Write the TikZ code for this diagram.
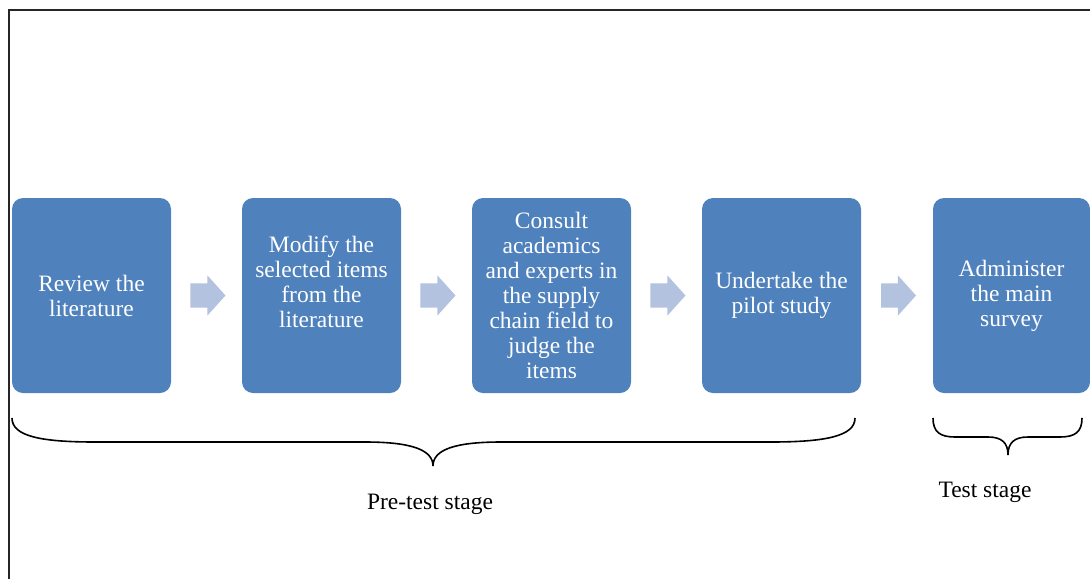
\documentclass[tikz,border=0pt]{standalone}
\usepackage{fontspec}
\setmainfont{Liberation Serif}
\usetikzlibrary{shapes.arrows,calc}
\definecolor{boxblue}{HTML}{4F81BD}
\definecolor{arrowblue}{HTML}{B2C2DF}
\begin{document}
\begin{tikzpicture}[x=1pt,y=-1pt,
  stepbox/.style={fill=boxblue, draw=none, rounded corners=11pt,
    minimum width=159pt, minimum height=195pt, inner sep=0pt,
    text=white, align=center, font=\fontsize{23.5}{25}\selectfont},
  flowarrow/.style={single arrow, fill=arrowblue, draw=none,
    inner xsep=0pt, inner ysep=12pt,
    minimum width=40pt, minimum height=35pt, single arrow head extend=8pt,
    single arrow tip angle=96},
  stagelabel/.style={anchor=base, inner sep=0pt, font=\fontsize{23.5}{25}\selectfont},
  brace/.style={draw=black, line width=1.6pt}]
\useasboundingbox (0,0) rectangle (1090,579);
% outer frame (top and left edges)
\draw[line width=2pt, black!85] (8.5,579) -- (8.5,10) -- (1090,10);

% process steps
\node[stepbox] (b1) at (91.5,295.5) {Review the\\literature};
\node[stepbox] (b2) at (321.5,295.5) {Modify the\\selected items\\from the\\literature\\[3pt] \mbox{}};
\node[stepbox] (b3) at (551.5,295.5) {Consult\\academics\\and experts in\\the supply\\chain field to\\judge the\\items};
\node[stepbox] (b4) at (781.5,295.5) {Undertake the\\pilot study};
\node[stepbox, minimum width=157pt] (b5) at (1011.5,295.5) {Administer\\the main\\survey};

% block arrows between steps
\node[flowarrow] (a1) at ($(b1.east)!0.5!(b2.west)+(-4,0)$) {};
\node[flowarrow] (a2) at ($(b2.east)!0.5!(b3.west)+(-4,0)$) {};
\node[flowarrow] (a3) at ($(b3.east)!0.5!(b4.west)+(-4,0)$) {};
\node[flowarrow] (a4) at ($(b4.east)!0.5!(b5.west)+(-4,0)$) {};

% brace under the pre-test steps
\draw[brace] (12,418) .. controls (12,436) and (40,442) .. (95,442)
  -- (365,442) .. controls (412,442) and (433,450) .. (433,466)
  .. controls (433,450) and (454,442) .. (501,442)
  -- (771,442) .. controls (826,442) and (855,436) .. (855,418);
% brace under the test step
\draw[brace] (933,418) .. controls (933,432) and (940,437) .. (955,437)
  -- (988,437) .. controls (1002,437) and (1008,443) .. (1008,455)
  .. controls (1008,443) and (1014,437) .. (1028,437)
  -- (1060,437) .. controls (1075,437) and (1082,432) .. (1082,418);

\node[stagelabel] (pre) at (430,509) {Pre-test stage};
\node[stagelabel] (test) at (985,497) {Test stage};
\end{tikzpicture}
\end{document}
